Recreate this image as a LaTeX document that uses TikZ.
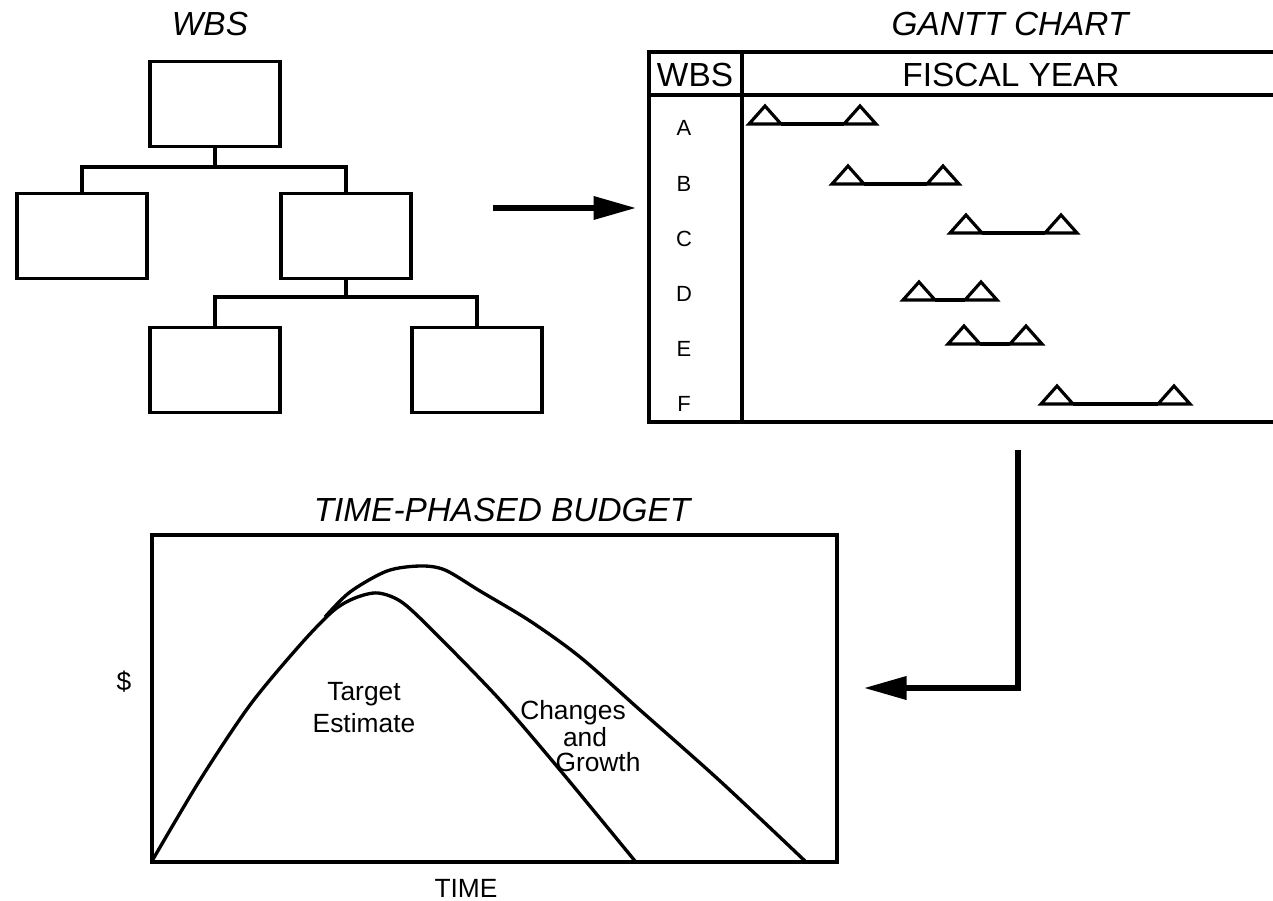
\documentclass[tikz,border=0pt]{standalone}
\usepackage{fontspec}
\setmainfont{Liberation Sans}
\usetikzlibrary{arrows.meta}
\tikzset{
  wbsbox/.style={draw, line width=2.2pt, minimum width=2.6cm, minimum height=1.7cm, inner sep=0pt},
  conn/.style={line width=2pt},
  frame/.style={line width=2.2pt},
  tri/.style={line width=1.8pt, line join=miter},
  gbar/.style={line width=1.8pt},
  curve/.style={line width=1.9pt, line join=round},
  bigarrow/.style={line width=3pt, -{Triangle[length=0.85cm,width=0.45cm]}},
  title/.style={font=\fontsize{19}{22}\selectfont\itshape, inner sep=0pt},
  head/.style={font=\fontsize{19}{22}\selectfont, inner sep=0pt},
  rowlab/.style={font=\fontsize{12.5}{14}\selectfont, inner sep=0pt},
  lab/.style={font=\fontsize{15}{17}\selectfont, inner sep=0pt},
  milestone/.pic={
    \draw[tri] (-16,0) -- (0,-18) -- (16,0) -- cycle;
    \coordinate (-l) at (16,0);
    \coordinate (-r) at (-16,0);
  }
}
\begin{document}
\begin{tikzpicture}[x=0.02cm,y=-0.02cm]
\useasboundingbox (0,0) rectangle (1273,901);

% ---------- WBS ----------
\node[title] (wbstitle) at (210,24) {WBS};
\node[wbsbox] (top) at (215,104) {};
\node[wbsbox] (left) at (82,236) {};
\node[wbsbox] (right) at (346,236) {};
\node[wbsbox] (bl) at (215,370) {};
\node[wbsbox] (br) at (477,370) {};
\coordinate (j1) at (215,167);
\coordinate (j2) at (346,297);
\draw[conn] (top.south) -- (j1);
\draw[conn] (left.north) |- (j1) -| (right.north);
\draw[conn] (right.south) -- (j2);
\draw[conn] (bl.north) |- (j2) -| (br.north);

% ---------- arrow 1 ----------
\coordinate (a1s) at (493,208);
\coordinate (a1e) at (636,208);
\draw[bigarrow] (a1s) -- (a1e);

% ---------- Gantt ----------
\node[title] (gtitle) at (1010,24) {GANTT CHART};
\draw[frame] (1275,52) -- (649,52) -- (649,422) -- (1275,422);
\draw[frame] (649,95) -- (1275,95);
\draw[frame] (742,52) -- (742,422);
\node[head] (hwbs) at (695,75) {WBS};
\node[head] (hfy) at (1011,75) {FISCAL YEAR};

\node[rowlab] (rA) at (684,128) {A};
\node[rowlab] (rB) at (684,184) {B};
\node[rowlab] (rC) at (684,239) {C};
\node[rowlab] (rD) at (684,294) {D};
\node[rowlab] (rE) at (684,349) {E};
\node[rowlab] (rF) at (684,404) {F};

\pic (A1) at (765,124) {milestone};
\pic (A2) at (860,124) {milestone};
\draw[gbar] (A1-l) -- (A2-r);
\pic (B1) at (848,184) {milestone};
\pic (B2) at (943,184) {milestone};
\draw[gbar] (B1-l) -- (B2-r);
\pic (C1) at (966,233) {milestone};
\pic (C2) at (1061,233) {milestone};
\draw[gbar] (C1-l) -- (C2-r);
\pic (D1) at (919,300) {milestone};
\pic (D2) at (981,300) {milestone};
\draw[gbar] (D1-l) -- (D2-r);
\pic (E1) at (964,344) {milestone};
\pic (E2) at (1026,344) {milestone};
\draw[gbar] (E1-l) -- (E2-r);
\pic (F1) at (1057,404) {milestone};
\pic (F2) at (1174,404) {milestone};
\draw[gbar] (F1-l) -- (F2-r);

% ---------- arrow 2 ----------
\coordinate (a2s) at (1018,450);
\coordinate (a2e) at (864,688);
\draw[bigarrow] (a2s) |- (a2e);

% ---------- Budget ----------
\node[title] (btitle) at (502,510) {TIME-PHASED BUDGET};
\draw[frame] (152,535) rectangle (837,862);
\node[lab] (dollar) at (124,682) {\$};
\node[lab] (time) at (466,888) {TIME};
\node[lab] (t1) at (364,694) {Target};
\node[lab] (t2) at (364,723) {Estimate};
\node[lab] (c1) at (573,713) {Changes};
\node[lab] (c2) at (585,737) {and};
\node[lab] (c3) at (598,762) {Growth};

\draw[curve] plot[smooth, tension=0.5] coordinates {
  (152,861) (200,780) (250,705) (300,645) (333,611) (355,598) (378,593)
  (403,603) (440,638) (500,700) (560,770) (635,861)};
\draw[curve] plot[smooth, tension=0.5] coordinates {
  (325,617) (350,592) (387,571) (420,566) (445,570) (480,591) (530,621)
  (580,657) (640,710) (720,781) (805,861)};
\end{tikzpicture}
\end{document}
